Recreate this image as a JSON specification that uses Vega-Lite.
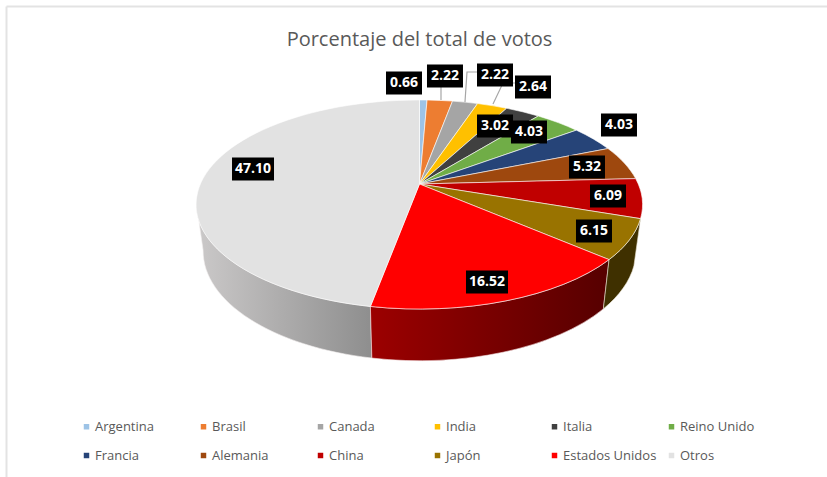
{
"$schema":"https://vega.github.io/schema/vega-lite/v6.json",
"width":827,"height":477,"padding":0,"autosize":{"type":"none"},
"background":"white",
"view":{"stroke":null},
"title":{"text":"Porcentaje del total de votos","font":"Open Sans","fontSize":20,"fontWeight":"normal","color":"#595959","anchor":"middle","offset":-50,"dx":6},
"datasets":{
"slices":[
{"country":"Argentina","v":0.66,"order":1,"lx":-0.0695,"ly":-0.4529},
{"country":"Brasil","v":2.22,"order":2,"lx":0.1143,"ly":-0.4843},
{"country":"Canada","v":2.22,"order":3,"lx":0.3386,"ly":-0.4888},
{"country":"India","v":2.64,"order":4,"lx":0.5090,"ly":-0.4350},
{"country":"Italia","v":3.02,"order":5,"lx":0.3386,"ly":-0.2601},
{"country":"Reino Unido","v":4.03,"order":6,"lx":0.4910,"ly":-0.2332},
{"country":"Francia","v":4.03,"order":7,"lx":0.8946,"ly":-0.2646},
{"country":"Alemania","v":5.32,"order":8,"lx":0.7511,"ly":-0.0762},
{"country":"China","v":6.09,"order":9,"lx":0.8453,"ly":0.0538},
{"country":"Japón","v":6.15,"order":10,"lx":0.7825,"ly":0.2108},
{"country":"Estados Unidos","v":16.52,"order":11,"lx":0.3027,"ly":0.4395},
{"country":"Otros","v":47.10,"order":12,"lx":-0.7466,"ly":-0.0673}
],
"leaders":[
{"leader":"Brasil","step":1,"lx":0.0964,"ly":-0.4350},
{"leader":"Brasil","step":2,"lx":0.0964,"ly":-0.3767},
{"leader":"Canada","step":1,"lx":0.2578,"ly":-0.5022},
{"leader":"Canada","step":2,"lx":0.2130,"ly":-0.5022},
{"leader":"Canada","step":3,"lx":0.2040,"ly":-0.3677},
{"leader":"India","step":1,"lx":0.4283,"ly":-0.4529},
{"leader":"India","step":2,"lx":0.3744,"ly":-0.4529},
{"leader":"India","step":3,"lx":0.3296,"ly":-0.3587}
]
},
"layer":[
{"data":{"values":[{"frame":1}]},
 "mark":{"type":"rule","color":"#e3e3e3","strokeWidth":2},
 "encoding":{"x":{"datum":-1.852,"type":"quantitative","scale":{"domain":[-1.8812,1.8274],"nice":false,"zero":false},"axis":null},"y":{"datum":-0.796,"type":"quantitative","scale":{"domain":[-0.8251,1.3139],"reverse":true,"nice":false,"zero":false},"axis":null},"y2":{"datum":1.3139}}},
{"data":{"values":[{"frame":1}]},
 "mark":{"type":"rule","color":"#e3e3e3","strokeWidth":2},
 "encoding":{"x":{"datum":-1.852,"type":"quantitative"},"x2":{"datum":1.8274},"y":{"datum":-0.796,"type":"quantitative"}}},
{"data":{"name":"slices"},
 "transform":[
  {"window":[{"op":"sum","field":"v","as":"cum"}],"sort":[{"field":"order","order":"ascending"}]},
  {"calculate":"2*PI*(datum.cum-datum.v)/100","as":"t0"},
  {"calculate":"2*PI*datum.cum/100","as":"t1"},
  {"calculate":"min(datum.t1,259*PI/180)","as":"t2"},
  {"calculate":"0.981*sin(datum.t0)/(1+0.196*cos(datum.t0))","as":"x0"},
  {"calculate":"-0.4507*cos(datum.t0)/(1+0.196*cos(datum.t0))","as":"y0"},
  {"calculate":"0.981*sin(datum.t1)/(1+0.196*cos(datum.t1))","as":"x1"},
  {"calculate":"-0.4507*cos(datum.t1)/(1+0.196*cos(datum.t1))","as":"y1"},
  {"calculate":"0.981*sin(datum.t2)/(1+0.196*cos(datum.t2))","as":"x2"},
  {"calculate":"-0.4507*cos(datum.t2)/(1+0.196*cos(datum.t2))","as":"y2"},
  {"calculate":"'M0 0L'+round(datum.x0*1e4)/1e4+' '+round(datum.y0*1e4)/1e4+'A1 0.4686 0 0 1 '+round(datum.x1*1e4)/1e4+' '+round(datum.y1*1e4)/1e4+'Z'","as":"slice"},
  {"calculate":"'M'+round(datum.x0*1e4)/1e4+' '+round(datum.y0*1e4)/1e4+'A1 0.4686 0 0 1 '+round(datum.x2*1e4)/1e4+' '+round(datum.y2*1e4)/1e4+'L'+round(datum.x2*0.97*1e4)/1e4+' '+round((datum.y2*1.05+0.204)*1e4)/1e4+'A0.97 0.492 0 0 0 '+round(datum.x0*0.97*1e4)/1e4+' '+round((datum.y0*1.05+0.204)*1e4)/1e4+'Z'","as":"wall"}
 ],
 "layer":[
  {"transform":[{"filter":"datum.country=='Otros'"}],
   "mark":{"type":"point","filled":true,"opacity":1,"stroke":"#f4f0f0","strokeWidth":0.6,"fill":{"gradient":"linear","x1":0,"x2":1,"y1":0,"y2":0,"stops":[{"offset":0,"color":"#cbc9c9"},{"offset":1,"color":"#8e8e8e"}]}},
   "encoding":{"x":{"datum":0,"type":"quantitative"},"y":{"datum":0,"type":"quantitative"},"size":{"value":198916},"shape":{"field":"wall","type":"nominal","scale":null,"legend":null}}},
  {"transform":[{"filter":"datum.country=='Estados Unidos'"}],
   "mark":{"type":"point","filled":true,"opacity":1,"stroke":"#f4e0e0","strokeWidth":0.6,"fill":{"gradient":"linear","x1":0,"x2":1,"y1":0,"y2":0,"stops":[{"offset":0,"color":"#9c0000"},{"offset":1,"color":"#560000"}]}},
   "encoding":{"x":{"datum":0,"type":"quantitative"},"y":{"datum":0,"type":"quantitative"},"size":{"value":198916},"shape":{"field":"wall","type":"nominal","scale":null,"legend":null}}},
  {"transform":[{"filter":"datum.country=='Japón'"}],
   "mark":{"type":"point","filled":true,"opacity":1,"stroke":"#e8e0d0","strokeWidth":0.6,"fill":"#3f3000"},
   "encoding":{"x":{"datum":0,"type":"quantitative"},"y":{"datum":0,"type":"quantitative"},"size":{"value":198916},"shape":{"field":"wall","type":"nominal","scale":null,"legend":null}}},
  {"mark":{"type":"point","filled":true,"opacity":1,"stroke":"#ffffff","strokeWidth":0.7,"strokeOpacity":0.85},
   "encoding":{"x":{"datum":0,"type":"quantitative"},"y":{"datum":0,"type":"quantitative"},"size":{"value":198916},
    "shape":{"field":"slice","type":"nominal","scale":null,"legend":null},
    "color":{"field":"country","type":"nominal","scale":{"domain":["Argentina","Brasil","Canada","India","Italia","Reino Unido","Francia","Alemania","China","Japón","Estados Unidos","Otros"],"range":["#9dc3e6","#ed7d31","#a5a5a5","#ffc000","#404040","#70ad47","#264478","#9e480e","#c00000","#997300","#ff0000","#e2e2e2"]},
     "legend":{"title":null,"orient":"none","legendX":80,"legendY":420,"columns":6,"direction":"horizontal","gridAlign":"all","columnPadding":8,"rowPadding":15,"symbolType":"square","symbolSize":30,"symbolStrokeWidth":0,"labelFont":"Open Sans","labelFontSize":13,"labelColor":"#595959","labelOffset":2,"labelLimit":140}}}}
 ]},
{"data":{"name":"leaders"},
 "mark":{"type":"line","color":"#a6a6a6","strokeWidth":1.2},
 "encoding":{"x":{"field":"lx","type":"quantitative"},"y":{"field":"ly","type":"quantitative"},"detail":{"field":"leader"},"order":{"field":"step","type":"quantitative"}}},
{"data":{"name":"slices"},
 "transform":[{"filter":"datum.v<10"}],
 "mark":{"type":"rect","width":36,"height":23,"color":"#000000"},
 "encoding":{"x":{"field":"lx","type":"quantitative"},"y":{"field":"ly","type":"quantitative"}}},
{"data":{"name":"slices"},
 "transform":[{"filter":"datum.v>=10"}],
 "mark":{"type":"rect","width":42,"height":23,"color":"#000000"},
 "encoding":{"x":{"field":"lx","type":"quantitative"},"y":{"field":"ly","type":"quantitative"}}},
{"data":{"name":"slices"},
 "mark":{"type":"text","color":"#ffffff","font":"Open Sans","fontWeight":"bold","fontSize":14,"align":"center","baseline":"middle"},
 "encoding":{"x":{"field":"lx","type":"quantitative"},"y":{"field":"ly","type":"quantitative"},"text":{"field":"v","type":"quantitative","format":".2f"}}}
]
}
